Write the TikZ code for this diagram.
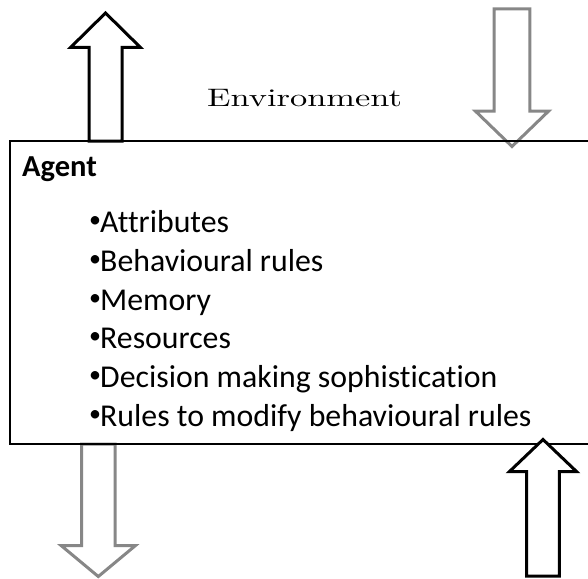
\documentclass[tikz,border=0pt]{standalone}
\usepackage{fontspec}
\newfontfamily\bodyfont{Carlito}[Ligatures=NoCommon]
\newfontfamily\envfont{lmroman10-regular.otf}
\usetikzlibrary{calc}

\tikzset{
  frame/.style={draw=black, line width=1.4pt},
  blockup/.style={draw=black, line width=3pt, fill=white, line join=miter},
  blockdown/.style={draw=black!47, line width=3pt, fill=white, line join=miter},
  item/.style={anchor=base west, inner sep=0pt, font=\bodyfont\fontsize{31.8}{31.8}\selectfont},
  title/.style={anchor=base west, inner sep=0pt, font=\bodyfont\bfseries\fontsize{30.5}{30.5}\selectfont},
  envlabel/.style={anchor=base west, inner sep=0pt, font=\envfont\fontsize{25.3}{25.3}\selectfont}
}

% small list bullet followed by the item text
\newcommand{\bul}{\makebox[11pt][l]{\fontsize{24}{24}\selectfont\raisebox{5pt}{•}}}

% block arrow: centre x, tail y, head-base y, tip y, shaft half-width, head half-width
\newcommand{\blockarrow}[7]{%
  \draw[#1] (#2-#6,#3) -- (#2-#6,#4) -- (#2-#7,#4) -- (#2,#5)
    -- (#2+#7,#4) -- (#2+#6,#4) -- (#2+#6,#3) -- cycle;}

\begin{document}
\begin{tikzpicture}[x=1pt, y=-1pt]
  \useasboundingbox (0,0) rectangle (588,578);

  % agent box (its right side runs past the page edge)
  \coordinate (boxNE) at (592,141);
  \coordinate (boxNW) at (10,141);
  \coordinate (boxSW) at (10,444);
  \coordinate (boxSE) at (592,444);
  \fill[white] (boxNW) rectangle (boxSE);

  % arrows leaving and entering the agent
  \blockarrow{blockup}{105.5}{141}{47.5}{13}{16.5}{35}
  \blockarrow{blockdown}{512}{9}{111}{146.5}{17.8}{36.7}
  \blockarrow{blockdown}{98.3}{444}{545.7}{576.5}{16.7}{37}

  \draw[frame] (boxNE) -- (boxNW) -- (boxSW) -- (boxSE);

  \blockarrow{blockup}{543}{576}{471.7}{439.5}{16.3}{33.7}

  % labels
  \node[envlabel] (env) at (207,106.7) {\scalebox{1.36}[1]{Environment}};
  \node[title] (agent) at (22,176.7) {Agent};
  \node[item] (i1) at (89,232.3) {\bul Attributes};
  \node[item] (i2) at (89,271) {\bul Behavioural rules};
  \node[item] (i3) at (89,310) {\bul Memory};
  \node[item] (i4) at (89,348.5) {\bul Resources};
  \node[item] (i5) at (89,387) {\bul Decision making sophistication};
  \node[item] (i6) at (89,426.5) {\bul Rules to modify behavioural rules};
\end{tikzpicture}
\end{document}
